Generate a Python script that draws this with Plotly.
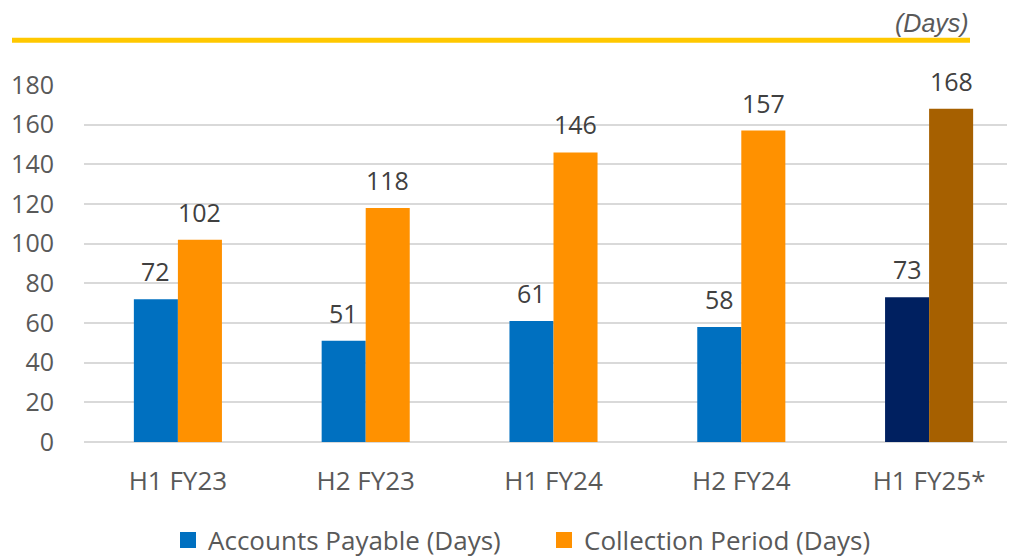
import plotly.graph_objects as go

categories = ["H1 FY23", "H2 FY23", "H1 FY24", "H2 FY24", "H1 FY25*"]
accounts_payable = [72, 51, 61, 58, 73]
collection_period = [102, 118, 146, 157, 168]
ap_colors = ["#0070C0", "#0070C0", "#0070C0", "#0070C0", "#002060"]
cp_colors = ["#FF9100", "#FF9100", "#FF9100", "#FF9100", "#A66000"]
series_names = ["Accounts Payable (Days)", "Collection Period (Days)"]
legend_colors = ["#0070C0", "#FF9100"]
y_ticks = [0, 20, 40, 60, 80, 100, 120, 140, 160, 180]

FONT = "Open Sans"
OFF = 8  # page body offset
PLOT_L, PLOT_R, PLOT_T, PLOT_B = 84 - OFF, 1015, 85 - OFF, 441.7 - OFF
PW, PH = PLOT_R - PLOT_L, PLOT_B - PLOT_T

fig = go.Figure()
fig.add_trace(go.Bar(name=series_names[0], x=categories, y=accounts_payable, showlegend=False,
                     marker=dict(color=ap_colors, line=dict(width=0))))
fig.add_trace(go.Bar(name=series_names[1], x=categories, y=collection_period, showlegend=False,
                     marker=dict(color=cp_colors, line=dict(width=0))))
for name, col in zip(series_names, legend_colors):
    fig.add_trace(go.Scatter(name=name, x=[None], y=[None], mode="markers",
                             marker=dict(symbol="square", size=17, color=col, line=dict(width=0))))

for c, v in zip(categories, accounts_payable):
    fig.add_annotation(x=c, y=v, text=str(v), showarrow=False, xshift=-22, yshift=9,
                       yanchor="bottom", font=dict(family=FONT, size=25, color="#404040"))
for c, v in zip(categories, collection_period):
    fig.add_annotation(x=c, y=v, text=str(v), showarrow=False, xshift=22, yshift=9,
                       yanchor="bottom", font=dict(family=FONT, size=25, color="#404040"))

fig.add_annotation(xref="paper", yref="paper", x=(970 - OFF - PLOT_L) / PW, y=1 + (PLOT_T - (8 - OFF)) / PH,
                   xanchor="right", yanchor="top", showarrow=False, borderpad=0,
                   text="<i>(Days)</i>", font=dict(family="Liberation Sans", size=25, color="#595959"))

fig.add_shape(type="line", xref="paper", yref="paper",
              x0=(12 - OFF - PLOT_L) / PW, x1=(970 - OFF - PLOT_L) / PW,
              y0=1 + (PLOT_T - (40.2 - OFF)) / PH, y1=1 + (PLOT_T - (40.2 - OFF)) / PH,
              line=dict(color="#FFC800", width=5))

fig.update_layout(
    width=1015, height=556,
    margin=dict(l=PLOT_L, r=0, t=PLOT_T, b=556 - PLOT_B, pad=0, autoexpand=False),
    plot_bgcolor="white", paper_bgcolor="white",
    barmode="group", bargap=0.531, bargroupgap=0,
    font=dict(family=FONT, size=24, color="#595959"),
    showlegend=True,
    legend=dict(orientation="h", x=(182 - OFF - 14) / 1015, xref="container", xanchor="left",
                y=(556 - (540 - OFF)) / 556, yref="container", yanchor="middle",
                font=dict(family=FONT, size=26, color="#595959"), traceorder="normal",
                itemsizing="trace", entrywidth=331, entrywidthmode="pixels"),
    xaxis=dict(range=[-0.5, 4.5], showgrid=False, showline=False, ticks="",
               ticklabelstandoff=21, tickfont=dict(family=FONT, size=26, color="#595959"), fixedrange=True),
    yaxis=dict(range=[0, 180], tickvals=y_ticks, showgrid=True, gridcolor="#D9D9D9", gridwidth=2,
               zeroline=True, zerolinecolor="#D9D9D9", zerolinewidth=2, showline=False, ticks="",
               ticklabelstandoff=29, tickfont=dict(family=FONT, size=25, color="#595959"), fixedrange=True),
)

fig.write_html("out.html")
